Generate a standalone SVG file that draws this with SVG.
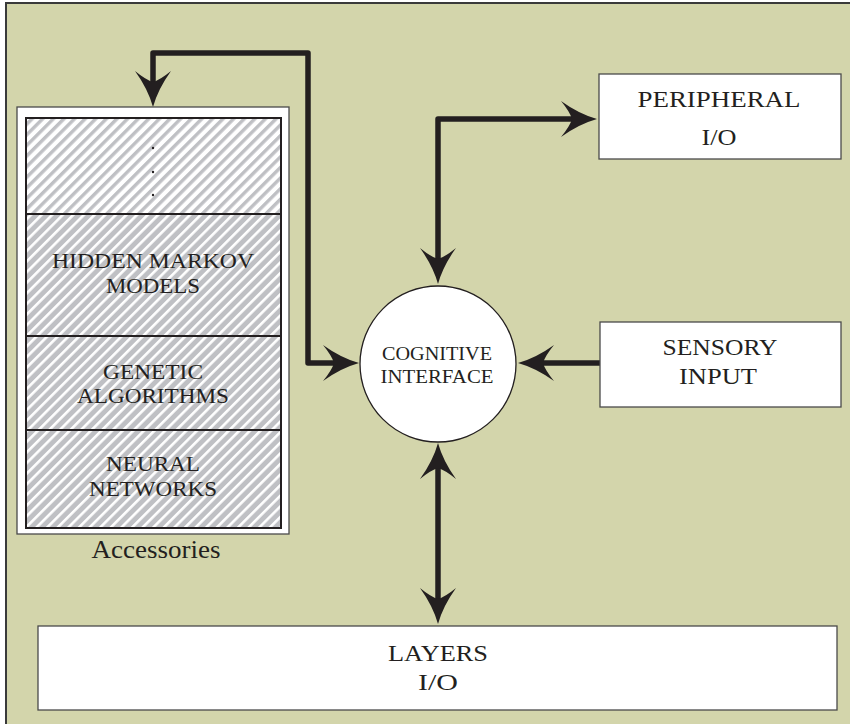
<svg xmlns="http://www.w3.org/2000/svg" width="850" height="724" viewBox="0 0 850 724">
  <style>
    .frame { fill: #d3d5ab; }
    .frame-edge { stroke: #3a3a3a; stroke-width: 2; fill: none; }
    .box { fill: #ffffff; stroke: #4a4a4a; stroke-width: 1.3; }
    .cell { stroke: #231f20; stroke-width: 2; }
    .wire { fill: none; stroke: #231f20; stroke-width: 5.5; stroke-linejoin: round; stroke-linecap: round; }
    .head { fill: #231f20; }
    .lbl { font-family: "Liberation Serif", "Times New Roman", serif; fill: #231f20; text-anchor: middle; }
  </style>
  <defs>
    <!-- diagonal hatching: grey stripes on white, and white stripes on grey -->
    <pattern id="hatchLight" patternUnits="userSpaceOnUse" width="7.5" height="7.5" patternTransform="rotate(45)">
      <rect width="7.5" height="7.5" fill="#ffffff"/>
      <rect width="3.4" height="7.5" fill="#bfc0c4"/>
    </pattern>
    <pattern id="hatchDark" patternUnits="userSpaceOnUse" width="7.5" height="7.5" patternTransform="rotate(45)">
      <rect width="7.5" height="7.5" fill="#bfc0c4"/>
      <rect width="2.6" height="7.5" fill="#ffffff"/>
    </pattern>
    <!-- barbed arrowhead, tip at origin, pointing along +x -->
    <path id="arrow" class="head" d="M0,0 Q-18,-5 -36,-18 Q-27,-7 -25,0 Q-27,7 -36,18 Q-18,5 0,0 Z"/>
  </defs>

  <!-- background panel -->
  <rect x="0" y="0" width="850" height="724" fill="#ffffff"/>
  <rect class="frame" x="6" y="3" width="844" height="721"/>
  <path class="frame-edge" d="M6,724 V3 H850"/>

  <!-- connectors -->
  <g id="connectors">
    <path class="wire" d="M153,88 V53 H308 V363 H336"/>
    <path class="wire" d="M438,262 V119 H575"/>
    <path class="wire" d="M601,363 H540"/>
    <path class="wire" d="M438,462 V604"/>
    <use href="#arrow" transform="translate(153,107) rotate(90)"/>
    <use href="#arrow" transform="translate(359,363)"/>
    <use href="#arrow" transform="translate(597,119)"/>
    <use href="#arrow" transform="translate(438,284) rotate(90)"/>
    <use href="#arrow" transform="translate(518,363) rotate(180)"/>
    <use href="#arrow" transform="translate(438,443) rotate(-90)"/>
    <use href="#arrow" transform="translate(438,624) rotate(90)"/>
  </g>

  <!-- accessories stack -->
  <g id="accessories">
    <rect class="box" x="17" y="107" width="272" height="427"/>
    <rect x="26" y="118" width="255" height="96" fill="url(#hatchLight)"/>
    <rect x="26" y="214" width="255" height="314" fill="url(#hatchDark)"/>
    <rect x="26" y="118" width="255" height="410" fill="none" class="cell"/>
    <line class="cell" x1="26" y1="214" x2="281" y2="214"/>
    <line class="cell" x1="26" y1="336" x2="281" y2="336"/>
    <line class="cell" x1="26" y1="430" x2="281" y2="430"/>
    <circle cx="153" cy="148" r="1.2" fill="#231f20"/>
    <circle cx="153" cy="172" r="1.2" fill="#231f20"/>
    <circle cx="153" cy="195" r="1.2" fill="#231f20"/>
    <text class="lbl" x="153" y="268" font-size="21" textLength="202" lengthAdjust="spacingAndGlyphs">HIDDEN MARKOV</text>
    <text class="lbl" x="153" y="293" font-size="21" textLength="94" lengthAdjust="spacingAndGlyphs">MODELS</text>
    <text class="lbl" x="153" y="379" font-size="21" textLength="100" lengthAdjust="spacingAndGlyphs">GENETIC</text>
    <text class="lbl" x="153" y="403" font-size="21" textLength="152" lengthAdjust="spacingAndGlyphs">ALGORITHMS</text>
    <text class="lbl" x="153" y="471" font-size="21" textLength="94" lengthAdjust="spacingAndGlyphs">NEURAL</text>
    <text class="lbl" x="153" y="496" font-size="21" textLength="128" lengthAdjust="spacingAndGlyphs">NETWORKS</text>
    <text class="lbl" x="156" y="558" font-size="26" textLength="129" lengthAdjust="spacingAndGlyphs">Accessories</text>
  </g>

  <!-- central node -->
  <g id="cognitive-interface">
    <circle cx="438" cy="364" r="78" fill="#ffffff" stroke="#231f20" stroke-width="1.3"/>
    <text class="lbl" x="437" y="360" font-size="19" textLength="110" lengthAdjust="spacingAndGlyphs">COGNITIVE</text>
    <text class="lbl" x="437" y="383" font-size="19" textLength="113" lengthAdjust="spacingAndGlyphs">INTERFACE</text>
  </g>

  <g id="peripheral-io">
    <rect class="box" x="599" y="74" width="242" height="85"/>
    <text class="lbl" x="719" y="107" font-size="24" textLength="163" lengthAdjust="spacingAndGlyphs">PERIPHERAL</text>
    <text class="lbl" x="719" y="145" font-size="24" textLength="35" lengthAdjust="spacingAndGlyphs">I/O</text>
  </g>

  <g id="sensory-input">
    <rect class="box" x="600" y="322" width="241" height="85"/>
    <text class="lbl" x="720" y="355" font-size="24" textLength="115" lengthAdjust="spacingAndGlyphs">SENSORY</text>
    <text class="lbl" x="718" y="384" font-size="24" textLength="78" lengthAdjust="spacingAndGlyphs">INPUT</text>
  </g>

  <g id="layers-io">
    <rect class="box" x="38" y="626" width="799" height="84"/>
    <text class="lbl" x="438" y="661" font-size="23" textLength="100" lengthAdjust="spacingAndGlyphs">LAYERS</text>
    <text class="lbl" x="438" y="690" font-size="23" textLength="40" lengthAdjust="spacingAndGlyphs">I/O</text>
  </g>
</svg>
